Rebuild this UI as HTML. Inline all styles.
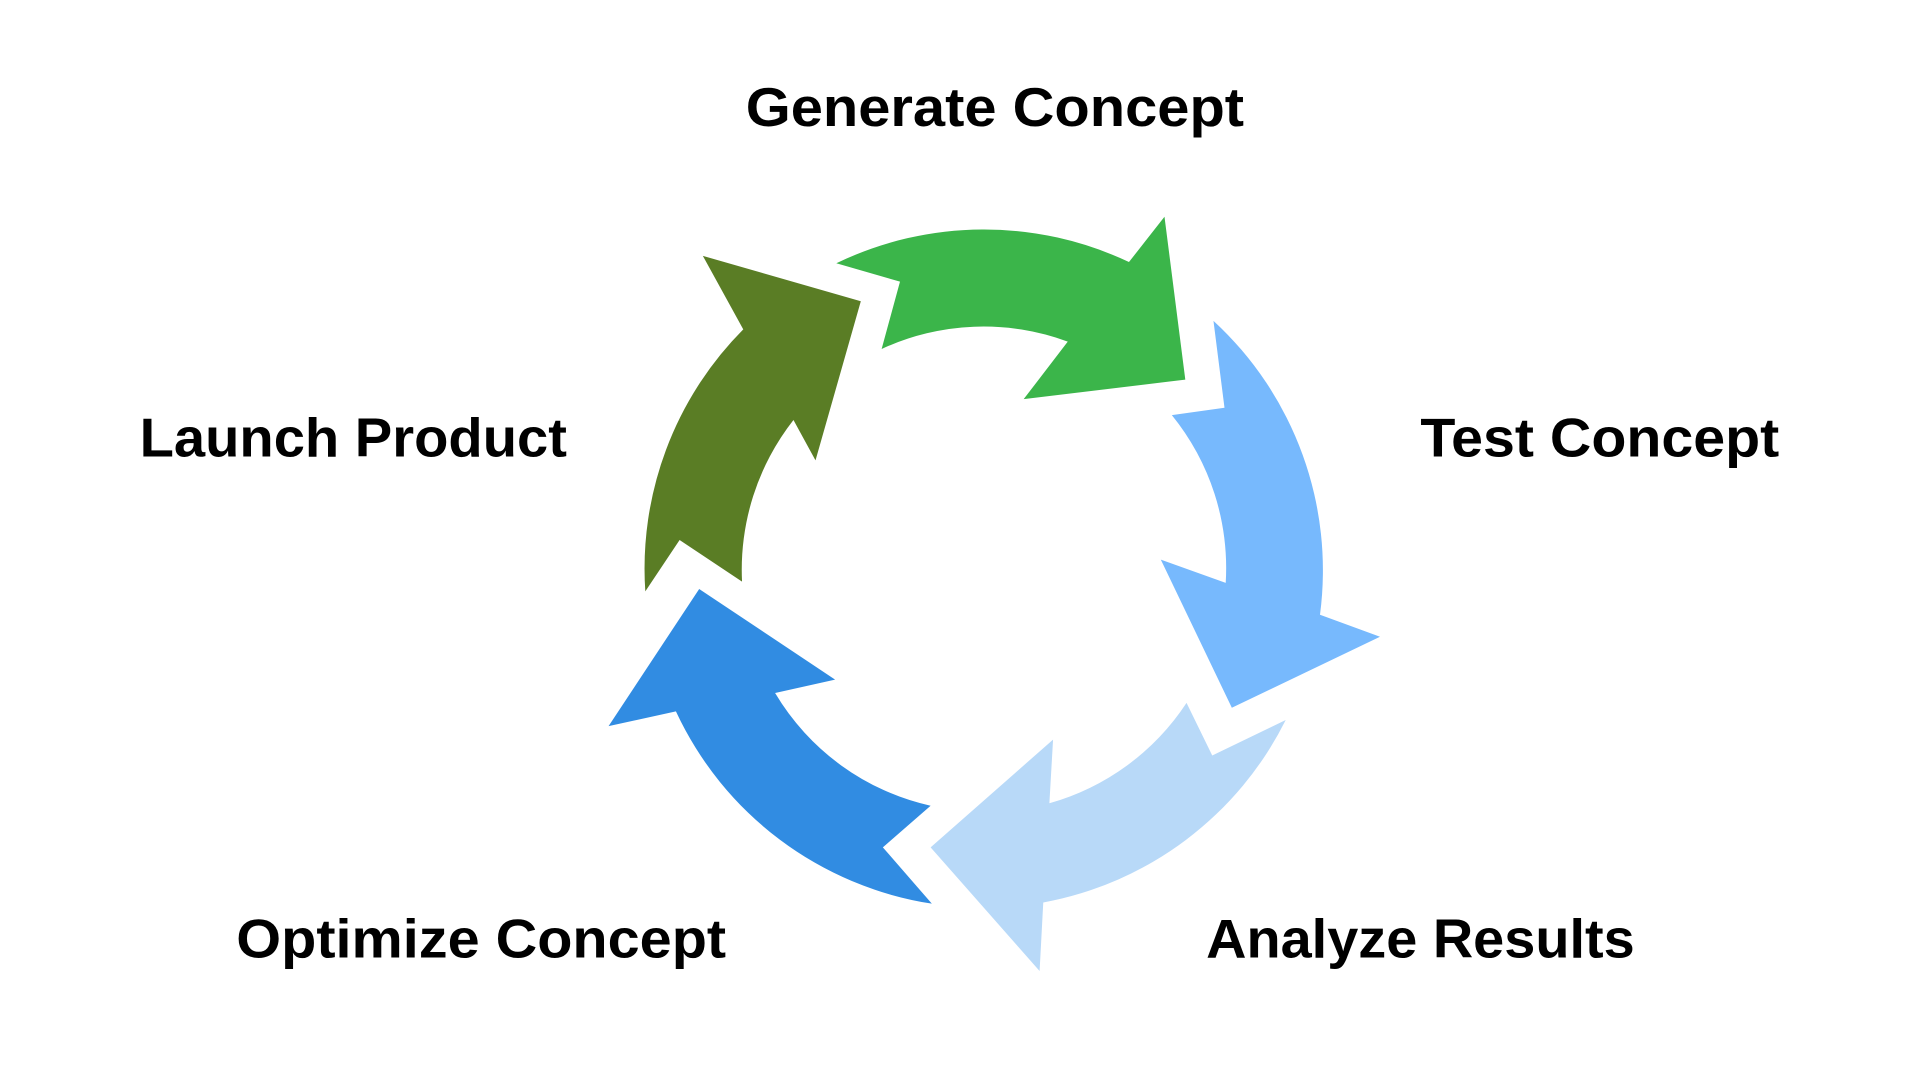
<!DOCTYPE html>
<html><head><meta charset="utf-8"><style>
html,body{margin:0;padding:0;background:#fff;}
svg{display:block;}
text{font-family:"Liberation Sans",sans-serif;font-weight:bold;font-size:45px;fill:#000;}
</style></head><body>
<svg width="1920" height="1080" viewBox="0 0 1568 882" preserveAspectRatio="none" xmlns="http://www.w3.org/2000/svg">
<rect width="1568" height="882" fill="#fff"/>
<path d="M683,215 A277,277 0 0 1 922,214 L951,177 L968,310 L836,326 L872,279 A198,198 0 0 0 720,285 L735,230 Z" fill="#3bb54a"/>
<path d="M991,262 A277,277 0 0 1 1078,502 L1127,520 L1006,578 L948,457 L1001,476 A198,198 0 0 0 957,339 L1000,333 Z" fill="#77b9fd"/>
<path d="M1050,588 A277,277 0 0 1 852,737 L849,793 L760,692 L860,604 L857,656 A198,198 0 0 0 969,574 L990,617 Z" fill="#b8d9f8"/>
<path d="M761,738 A277,277 0 0 1 552,581 L497,593 L571,481 L682,555 L633,566 A198,198 0 0 0 760,658 L721,692 Z" fill="#318ce2"/>
<path d="M527,483 A277,277 0 0 1 607,269 L574,209 L703,246 L666,376 L648,343 A198,198 0 0 0 606,475 L555,441 Z" fill="#5a7d25"/>
<text x="609" y="103" textLength="407" lengthAdjust="spacingAndGlyphs">Generate Concept</text>
<text x="114" y="373" textLength="349" lengthAdjust="spacingAndGlyphs">Launch Product</text>
<text x="1160" y="373" textLength="293" lengthAdjust="spacingAndGlyphs">Test Concept</text>
<text x="193" y="782" textLength="400" lengthAdjust="spacingAndGlyphs">Optimize Concept</text>
<text x="985" y="782" textLength="350" lengthAdjust="spacingAndGlyphs">Analyze Results</text>
</svg>
</body></html>
